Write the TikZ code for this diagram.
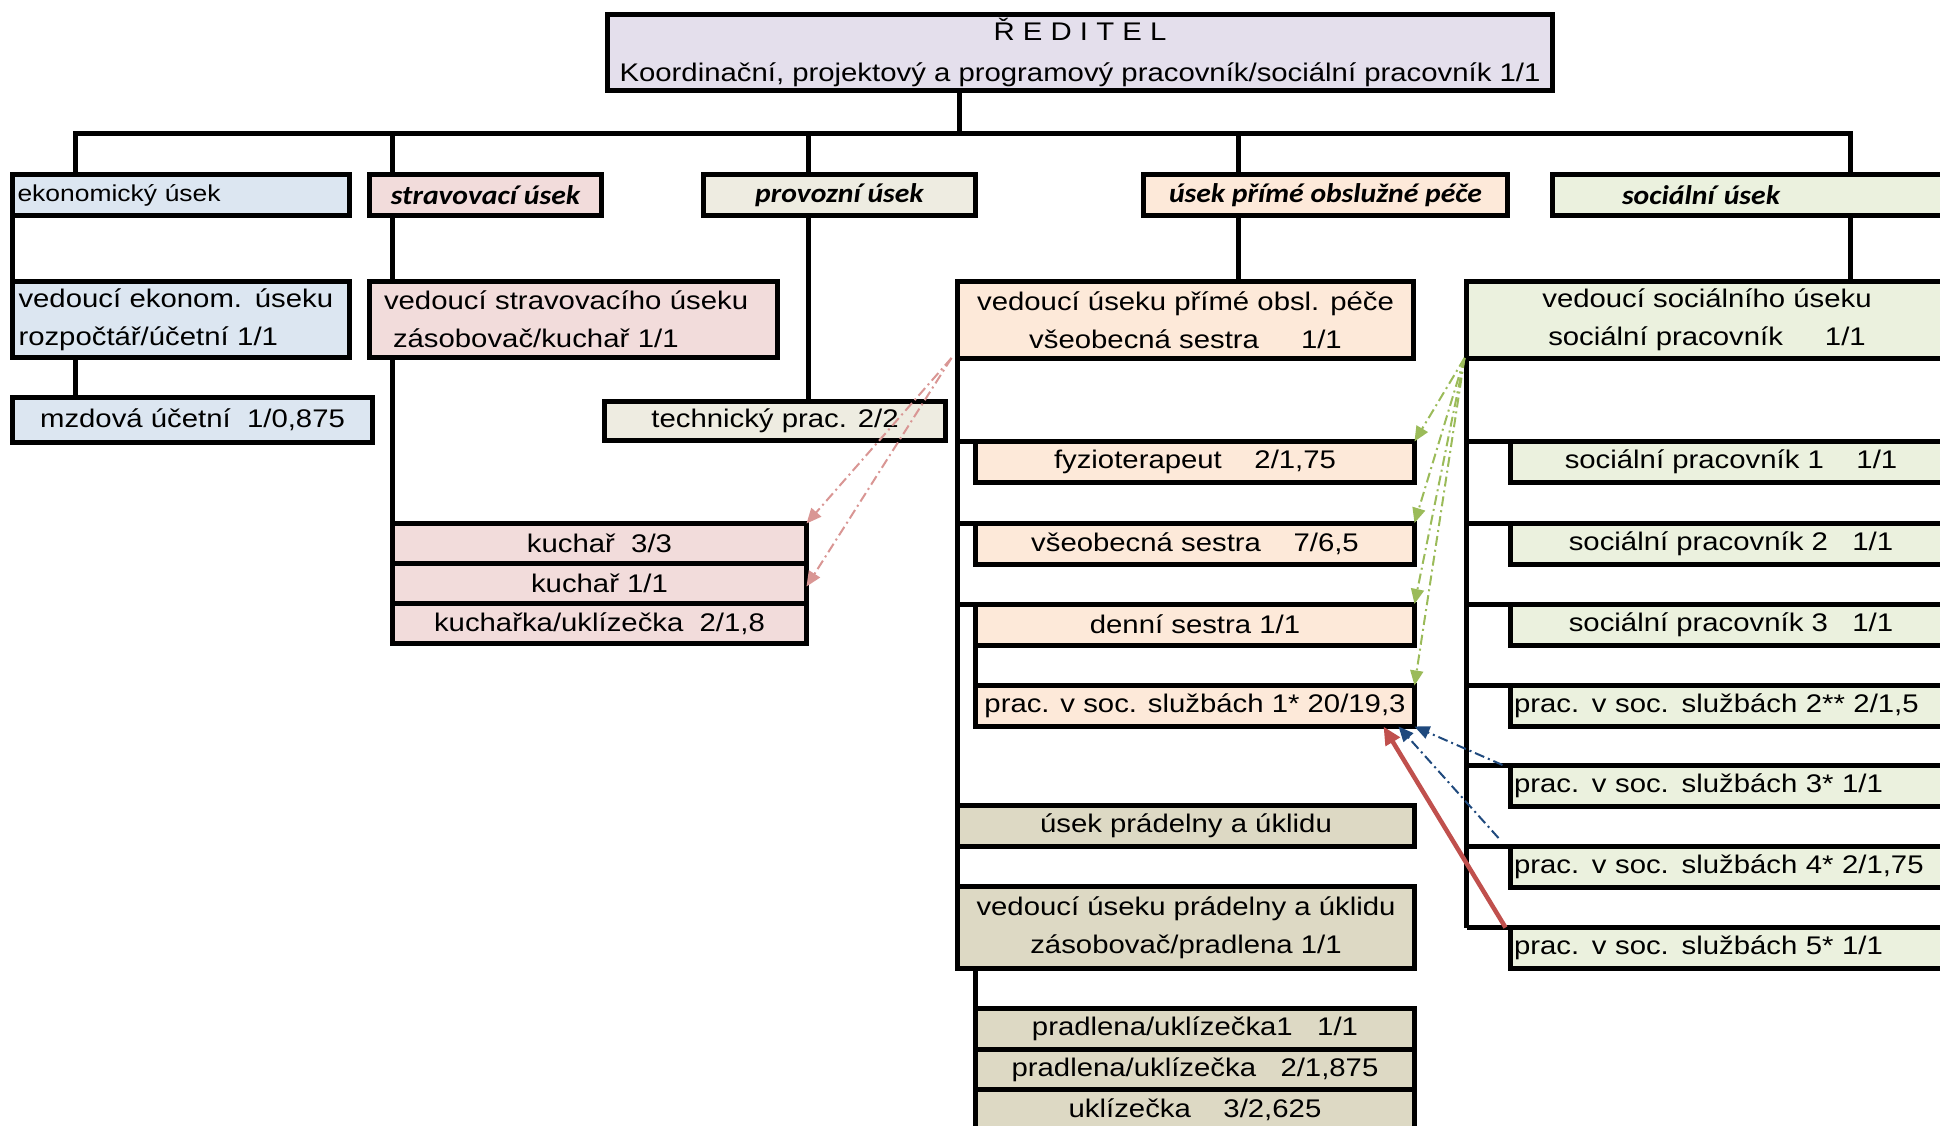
\documentclass[tikz,border=0pt]{standalone}
\usepackage{fontspec}
\setmainfont[FakeStretch=1.15]{Liberation Sans}
\newfontfamily\headfont[FakeStretch=1.1]{Carlito}
\definecolor{DIRcolor}{HTML}{E4DFEC}
\definecolor{EKOcolor}{HTML}{DCE6F1}
\definecolor{STRcolor}{HTML}{F2DCDB}
\definecolor{PROcolor}{HTML}{EEECE1}
\definecolor{PECcolor}{HTML}{FDE9D9}
\definecolor{SOCcolor}{HTML}{EBF1DE}
\definecolor{PRAcolor}{HTML}{DDD9C4}
\definecolor{ARRred}{HTML}{C0504D}
\definecolor{ARRpink}{HTML}{D99694}
\definecolor{ARRgreen}{HTML}{9BBB59}
\definecolor{ARRblue}{HTML}{1F497D}
\usetikzlibrary{arrows.meta,positioning}

\begin{document}
\begin{tikzpicture}[x=1pt,y=-1pt]

    \tikzset{%
        unit/.style={draw, line width=5pt, rectangle, inner sep=2pt, outer sep=0pt,
                anchor=north west, align=center, font=\fontsize{25.5}{38}\selectfont},
        head/.style={unit, font=\fontsize{27}{30}\selectfont\headfont\bfseries\itshape},
        size/.style args={#1/#2}{minimum width=#1, minimum height=#2},
        link/.style={line width=5pt},
        dashdot/.style={line width=2pt, dash pattern=on 10pt off 4pt on 2pt off 4pt,
                -{Triangle[length=15pt,width=13pt]}},
    }

    \useasboundingbox (0,0) rectangle (1940,1126);
    \clip (0,0) rectangle (1940,1126);

    \node[unit, fill=DIRcolor, size=945/76, font=\fontsize{25.5}{41}\selectfont] (reditel) at (607.5,14.5)
        {Ř E D I T E L\\Koordinační, projektový a programový pracovník/sociální pracovník 1/1};

    \node[unit, fill=EKOcolor, size=337/41, text width=327pt, align=left, font=\fontsize{23}{26}\selectfont] (eko) at (12.5,174.5) {ekonomický úsek};
    \node[head, fill=STRcolor, size=232/41] (strav) at (369.5,174.5) {stravovací úsek};
    \node[head, fill=PROcolor, size=272/41] (prov) at (703.5,174.5) {provozní úsek};
    \node[head, fill=PECcolor, size=364/41] (pece) at (1143.5,174.5) {úsek přímé obslužné péče};
    \node[head, fill=SOCcolor, size=420/41, text width=281pt, align=left] (soc) at (1552.5,174.5) {sociální úsek};

    \node[unit, fill=EKOcolor, size=337/76, text width=325pt, align=left] (ekoved) at (12.5,281.5)
        {vedoucí ekonom. úseku\\rozpočtář/účetní 1/1};
    \node[unit, fill=STRcolor, size=408/76, text width=379pt, align=left] (stravved) at (369.5,281.5)
        {vedoucí stravovacího úseku\\\hspace*{9pt}zásobovač/kuchař 1/1};
    \node[unit, fill=PECcolor, size=456/76.5] (vedped) at (957.5,281.5)
        {vedoucí úseku přímé obsl. péče\\všeobecná sestra\hspace{42pt}1/1};
    \node[unit, fill=SOCcolor, size=481/76.5] (vedsoc) at (1466.5,281.5)
        {vedoucí sociálního úseku\\sociální pracovník\hspace{42pt}1/1};

    \node[unit, fill=EKOcolor, size=360/45] (mzdova) at (12.5,397.5) {mzdová účetní~~1/0,875};
    \node[unit, fill=PROcolor, size=341/39] (technicky) at (604.5,401.5) {technický prac. 2/2};

    \node[unit, fill=STRcolor, size=414/40] (kuchar1) at (392.5,523.5) {kuchař~~3/3};
    \node[unit, fill=STRcolor, size=414/40, below=0pt of kuchar1] (kuchar2) {kuchař 1/1};
    \node[unit, fill=STRcolor, size=414/40, below=0pt of kuchar2] (kuchar3) {kuchařka/uklízečka~~2/1,8};

    \node[unit, fill=PECcolor, size=439/41] (fyzio) at (975.5,441.5) {fyzioterapeut~~~~2/1,75};
    \node[unit, fill=PECcolor, size=439/41] (vseob) at (975.5,523) {všeobecná sestra~~~~7/6,5};
    \node[unit, fill=PECcolor, size=439/41] (denni) at (975.5,604) {denní sestra 1/1};
    \node[unit, fill=PECcolor, size=439/41] (prac1) at (975.5,685.5) {prac. v soc. službách 1* 20/19,3};

    \node[unit, fill=PRAcolor, size=457/41] (usekprad) at (957.5,805.5) {úsek prádelny a úklidu};
    \node[unit, fill=PRAcolor, size=457/81.5] (vedprad) at (957.5,886.5)
        {vedoucí úseku prádelny a úklidu\\zásobovač/pradlena 1/1};
    \node[unit, fill=PRAcolor, size=439/40.5] (pradl1) at (975.5,1008.5) {pradlena/uklízečka1~~~1/1};
    \node[unit, fill=PRAcolor, size=439/40.5, below=0pt of pradl1] (pradl2) {pradlena/uklízečka~~~2/1,875};
    \node[unit, fill=PRAcolor, size=439/40.5, below=0pt of pradl2] (uklid) {uklízečka~~~~3/2,625};

    \node[unit, fill=SOCcolor, size=441/41] (soc1) at (1510.5,441.5) {sociální pracovník 1~~~~1/1};
    \node[unit, fill=SOCcolor, size=441/41] (soc2) at (1510.5,523) {sociální pracovník 2~~~1/1};
    \node[unit, fill=SOCcolor, size=441/41] (soc3) at (1510.5,604) {sociální pracovník 3~~~1/1};
    \node[unit, fill=SOCcolor, size=450/41, text width=443pt, align=left] (prac2) at (1510.5,685.5) {prac. v soc. službách 2** 2/1,5};
    \node[unit, fill=SOCcolor, size=450/41, text width=443pt, align=left] (prac3) at (1510.5,765) {prac. v soc. službách 3* 1/1};
    \node[unit, fill=SOCcolor, size=450/41, text width=443pt, align=left] (prac4) at (1510.5,846) {prac. v soc. službách 4* 2/1,75};
    \node[unit, fill=SOCcolor, size=450/41, text width=443pt, align=left] (prac5) at (1510.5,927.5) {prac. v soc. službách 5* 1/1};

    \coordinate (bus) at (959,134);
    \draw[link] (reditel.south -| bus) -- (bus);
    \draw[link] (eko.north -| 75,0) |- (bus) -| (soc.north -| 1850,0);
    \draw[link] (strav.north -| 392,0) -- (bus -| 392,0);
    \draw[link] (prov.north -| 808,0) -- (bus -| 808,0);
    \draw[link] (pece.north -| 1238,0) -- (bus -| 1238,0);

    \draw[link] (eko.south west) -- (ekoved.north west);
    \draw[link] (ekoved.south -| 75,0) -- (mzdova.north -| 75,0);
    \draw[link] (strav.south -| 392,0) -- (stravved.north -| 392,0);
    \draw[link] (stravved.south -| 392,0) -- (kuchar1.north -| 392,0);
    \draw[link] (prov.south -| 808,0) -- (technicky.north -| 808,0);
    \draw[link] (pece.south -| 1238,0) -- (vedped.north -| 1238,0);
    \draw[link] (soc.south -| 1850,0) -- (vedsoc.north -| 1850,0);

    \draw[link] (vedped.south west) -- (vedprad.north west);
    \foreach \n in {fyzio,vseob,denni}
    \draw[link] (vedped.south west |- \n.north west) -- (\n.north west);
    \draw[link] (denni.south west) -- (prac1.north west);
    \draw[link] (vedprad.south -| pradl1.north west) -- (pradl1.north west);

    \draw[link] (vedsoc.south west) -- (vedsoc.south west |- prac5.north west);
    \foreach \n in {soc1,soc2,soc3,prac2,prac3,prac4,prac5}
    \draw[link] (vedsoc.south west |- \n.north west) -- (\n.north west);

    \draw[dashdot, ARRpink] ([xshift=-6]vedped.south west) -- (kuchar1.north east);
    \draw[dashdot, ARRpink] ([xshift=-6]vedped.south west) -- ([yshift=-3]kuchar2.east);
    \foreach \n in {fyzio,vseob,denni,prac1}
    \draw[dashdot, ARRgreen] ([xshift=-2]vedsoc.south west) -- (\n.north east);
    \draw[dashdot, ARRblue] ([xshift=-8]prac3.north west) -- (prac1.south east);
    \draw[dashdot, ARRblue] ([shift={(-12,-8)}]prac4.north west) -- ([xshift=-16]prac1.south east);
    \draw[line width=4.5pt, ARRred, -{Triangle[length=18pt,width=16pt]}] ([xshift=-5]prac5.north west) -- ([xshift=-31]prac1.south east);

\end{tikzpicture}
\end{document}
